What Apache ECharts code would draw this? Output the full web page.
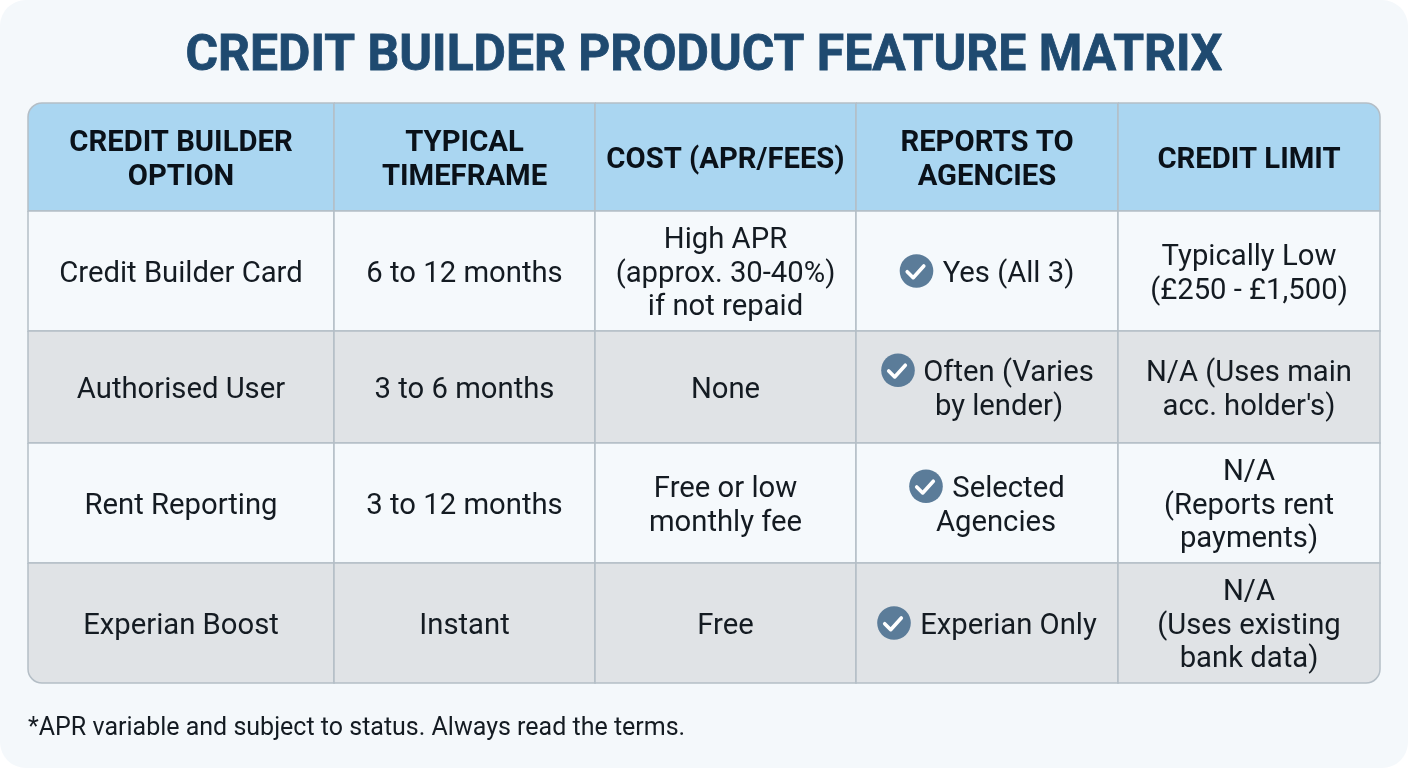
<!DOCTYPE html>
<html>
<head>
<meta charset="utf-8">
<style>
html, body { margin: 0; padding: 0; background: #fff; }
#chart-container { width: 1408px; height: 768px; }
</style>
<script src="https://cdn.jsdelivr.net/npm/echarts@6/dist/echarts.min.js"></script>
</head>
<body>
<div id="chart-container"></div>
<script>
// table content
var titleText = 'CREDIT BUILDER PRODUCT FEATURE MATRIX';
var footnoteText = '*APR variable and subject to status. Always read the terms.';
var headers = ['CREDIT BUILDER\nOPTION', 'TYPICAL\nTIMEFRAME', 'COST (APR/FEES)', 'REPORTS TO\nAGENCIES', 'CREDIT LIMIT'];
var options = ['Credit Builder Card', 'Authorised User', 'Rent Reporting', 'Experian Boost'];
var timeframes = ['6 to 12 months', '3 to 6 months', '3 to 12 months', 'Instant'];
var costs = ['High APR\n(approx. 30-40%)\nif not repaid', 'None', 'Free or low\nmonthly fee', 'Free'];
var agencies = ['Yes (All 3)', 'Often (Varies\nby lender)', 'Selected\nAgencies', 'Experian Only'];
var limits = ['Typically Low\n(£250 - £1,500)', 'N/A (Uses main\nacc. holder\'s)', 'N/A\n(Reports rent\npayments)', 'N/A\n(Uses existing\nbank data)'];

// layout, in axis units
var colEdges = [0, 306, 567, 828, 1090, 1352];
var rowEdges = [0, 108, 228, 340, 460, 580];
var iconOffset = [-70.5, -89, -61, -93];
var secondLineOffset = [0, 12, 9, 0];
var lineHeight = 33.5;
var textNudge = 3.6; // roboto sits high with verticalAlign middle

var columns = [options, timeframes, costs, agencies, limits];
var cells = [];
for (var c = 0; c < 5; c++) {
  for (var r = 0; r < 5; r++) {
    cells.push([c, r]);
  }
}

function cellText(c, r) {
  return r === 0 ? headers[c] : columns[c][r - 1];
}

function renderCell(params, api) {
  var c = api.value(0), r = api.value(1);
  var tl = api.coord([colEdges[c], rowEdges[r]]);
  var br = api.coord([colEdges[c + 1], rowEdges[r + 1]]);
  var w = br[0] - tl[0], h = br[1] - tl[1];
  var cx = tl[0] + w / 2, cy = tl[1] + h / 2;
  var fill = r === 0 ? '#aad6f1' : (r % 2 ? '#f5f9fc' : '#e0e3e6');
  var radius = [
    c === 0 && r === 0 ? 14 : 0,
    c === 4 && r === 0 ? 14 : 0,
    c === 4 && r === 4 ? 14 : 0,
    c === 0 && r === 4 ? 14 : 0
  ];
  var children = [{
    type: 'rect',
    shape: { x: tl[0], y: tl[1], width: w, height: h, r: radius },
    style: { fill: fill, stroke: '#b4bec6', lineWidth: 1.5 }
  }];
  var font = (r === 0 ? 'bold ' : '') + '29.25px Roboto';
  var color = r === 0 ? '#0a1119' : '#141b22';

  if (c === 3 && r > 0) {
    // agency column: tick icon beside the first line
    var lines = cellText(c, r).split('\n');
    var top = cy - (lines.length - 1) * lineHeight / 2;
    var ix = cx + iconOffset[r - 1];
    children.push({
      type: 'circle',
      shape: { cx: ix, cy: top, r: 16.8 },
      style: { fill: '#5b7c99' }
    }, {
      type: 'polyline',
      shape: { points: [[ix - 9.3, top + 0.7], [ix - 3.3, top + 6.7], [ix + 7.3, top - 5]] },
      style: { fill: null, stroke: '#fff', lineWidth: 3.6, lineCap: 'round', lineJoin: 'round' }
    });
    lines.forEach(function (line, i) {
      children.push({
        type: 'text',
        style: {
          text: line,
          x: cx + (i === 0 ? 21.5 : secondLineOffset[r - 1]),
          y: top + i * lineHeight + textNudge,
          align: 'center', verticalAlign: 'middle',
          font: font, fill: color
        }
      });
    });
  } else {
    children.push({
      type: 'text',
      style: {
        text: cellText(c, r),
        x: cx, y: cy + textNudge,
        align: 'center', verticalAlign: 'middle',
        font: font, lineHeight: lineHeight, fill: color
      }
    });
  }
  return { type: 'group', children: children };
}

var dom = document.getElementById('chart-container');
var myChart = echarts.init(dom, '', { renderer: 'canvas' });
var option = {
  animation: false,
  backgroundColor: '#ffffff',
  graphic: [{
    type: 'rect',
    z: -1,
    shape: { x: 0, y: 0, width: 1408, height: 768, r: 26 },
    style: { fill: '#f4f8fb' }
  }],
  title: [{
    text: titleText,
    left: 'center',
    top: 33,
    padding: 0,
    textStyle: {
      fontFamily: 'Roboto', fontWeight: 'bold', fontSize: 49.8, color: '#1f4a70',
      textBorderColor: '#1f4a70', textBorderWidth: 0.8
    }
  }, {
    text: footnoteText,
    left: 28,
    top: 716,
    padding: 0,
    textStyle: { fontFamily: 'Roboto', fontWeight: 'normal', fontSize: 25, color: '#141b22' }
  }],
  grid: { left: 28, top: 103, width: 1352, height: 580 },
  xAxis: { type: 'value', min: 0, max: 1352, show: false },
  yAxis: { type: 'value', min: 0, max: 580, inverse: true, show: false },
  series: [{
    type: 'custom',
    coordinateSystem: 'cartesian2d',
    renderItem: renderCell,
    clip: false,
    silent: true,
    data: cells
  }]
};
myChart.setOption(option);
window.addEventListener('resize', myChart.resize);
</script>
</body>
</html>
